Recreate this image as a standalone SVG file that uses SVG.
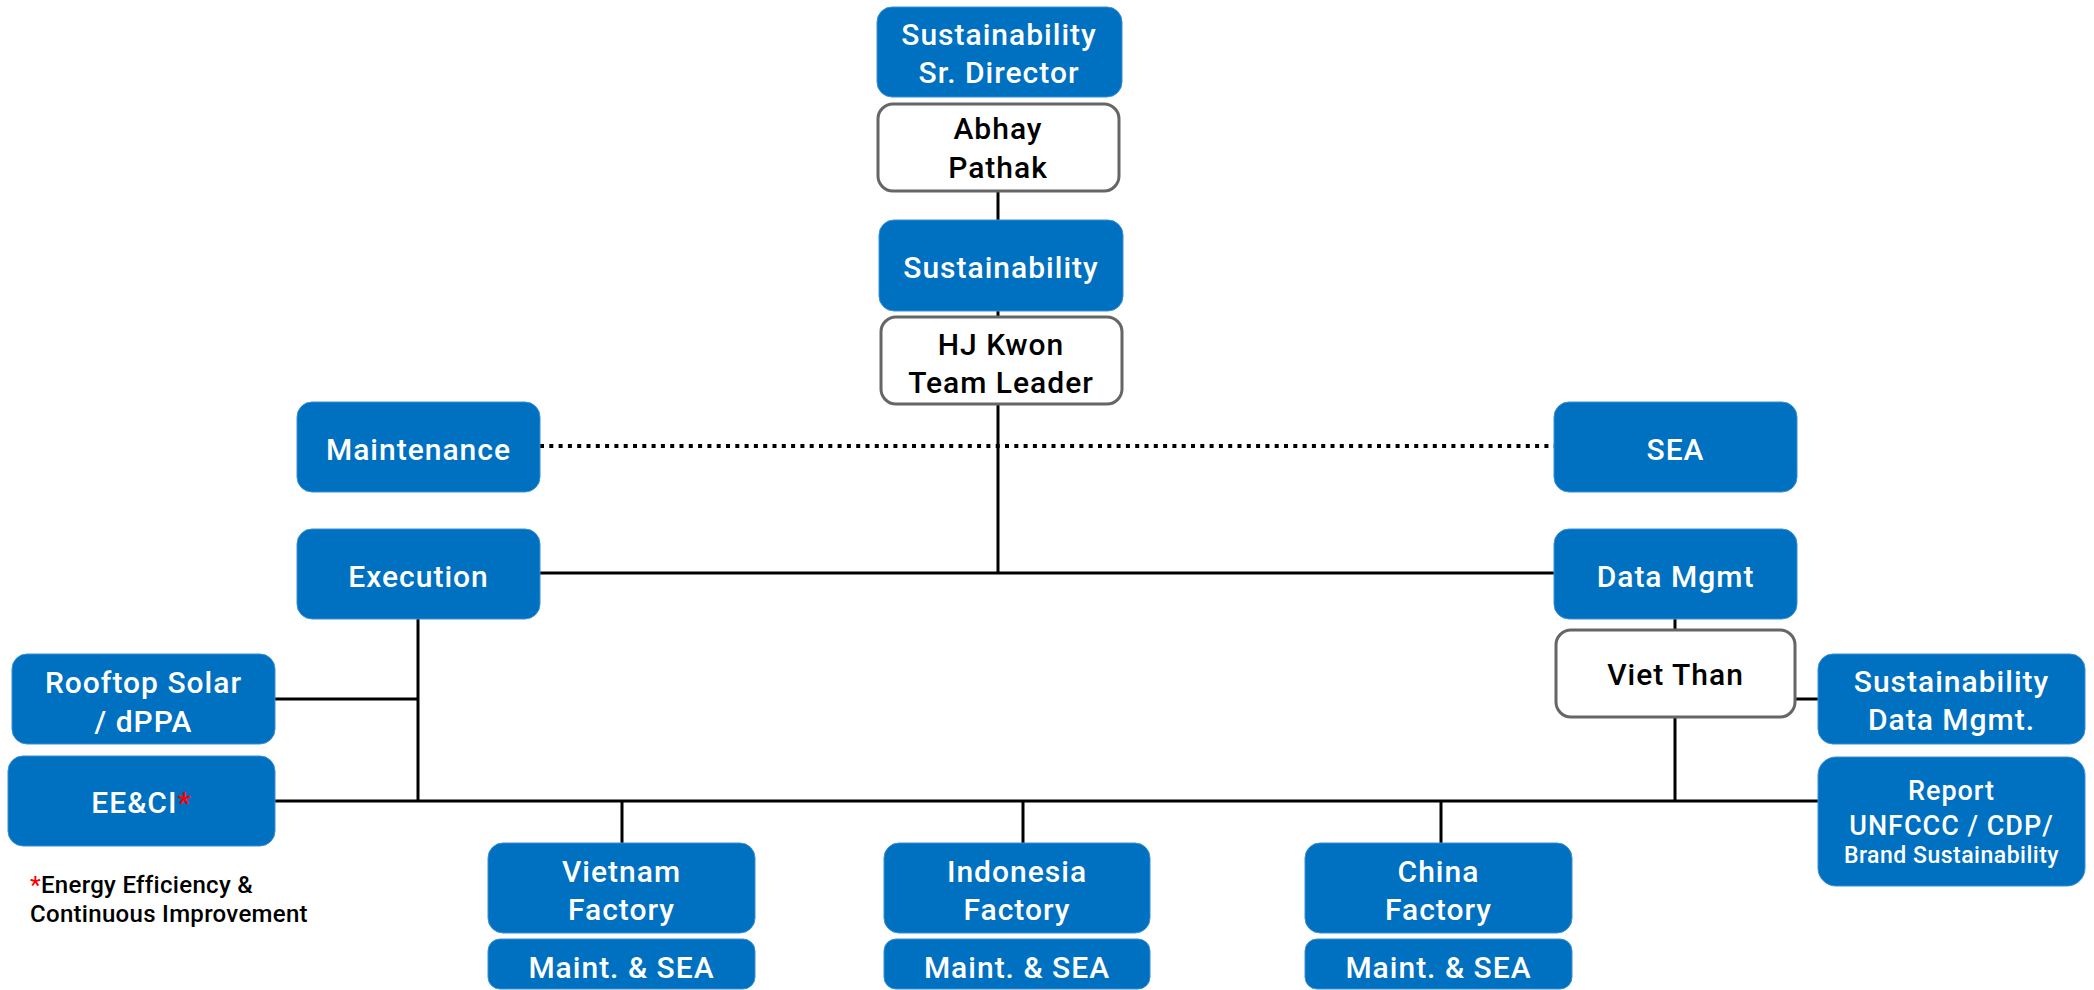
<svg xmlns="http://www.w3.org/2000/svg" width="2094" height="990" viewBox="0 0 2094 990">
<style>
.b{fill:#0070C0;stroke:#3a8fd6;stroke-width:1}
.w{fill:#ffffff;stroke:#666666;stroke-width:3}
text{font-family:Roboto,"Liberation Sans",sans-serif;font-weight:500;text-anchor:middle;letter-spacing:1px}
.tw{fill:#ffffff;font-size:30px}
.tk{fill:#000000;font-size:30px}
.ln{stroke:#000000;stroke-width:3;fill:none}
.dt{stroke:#000000;stroke-width:4;stroke-dasharray:4 5.3;fill:none}
.fn{font-size:24px;text-anchor:start;fill:#000000;letter-spacing:0.3px}
</style>
<rect width="2094" height="990" fill="#ffffff"/>
<g id="connectors">
<line class="ln" x1="998" y1="191" x2="998" y2="220"/>
<line class="ln" x1="998" y1="311" x2="998" y2="316"/>
<line class="ln" x1="998" y1="405" x2="998" y2="573"/>
<line class="dt" x1="540" y1="446" x2="1554" y2="446"/>
<line class="ln" x1="540" y1="573" x2="1554" y2="573"/>
<line class="ln" x1="418" y1="619" x2="418" y2="801"/>
<line class="ln" x1="275" y1="699" x2="418" y2="699"/>
<line class="ln" x1="275" y1="801" x2="1818" y2="801"/>
<line class="ln" x1="1675" y1="619" x2="1675" y2="629"/>
<line class="ln" x1="1675" y1="717" x2="1675" y2="801"/>
<line class="ln" x1="1795" y1="699" x2="1818" y2="699"/>
<line class="ln" x1="622" y1="801" x2="622" y2="843"/>
<line class="ln" x1="1023" y1="801" x2="1023" y2="843"/>
<line class="ln" x1="1441" y1="801" x2="1441" y2="843"/>
</g>
<g id="sr-director"><rect class="b" x="877" y="7" width="245" height="90" rx="15"/><text class="tw" x="999" y="45">Sustainability</text><text class="tw" x="999" y="83">Sr. Director</text></g>
<g id="abhay"><rect class="w" x="878" y="104" width="241" height="87" rx="15"/><text class="tk" x="998" y="139">Abhay</text><text class="tk" x="998" y="178">Pathak</text></g>
<g id="sustainability"><rect class="b" x="879" y="220" width="244" height="91" rx="15"/><text class="tw" x="1001" y="278">Sustainability</text></g>
<g id="hjkwon"><rect class="w" x="881" y="317" width="241" height="87" rx="15"/><text class="tk" x="1001" y="355">HJ Kwon</text><text class="tk" x="1001" y="393">Team Leader</text></g>
<g id="maintenance"><rect class="b" x="297" y="402" width="243" height="90" rx="15"/><text class="tw" x="418.5" y="460">Maintenance</text></g>
<g id="sea"><rect class="b" x="1554" y="402" width="243" height="90" rx="15"/><text class="tw" x="1675.5" y="460">SEA</text></g>
<g id="execution"><rect class="b" x="297" y="529" width="243" height="90" rx="15"/><text class="tw" x="418.5" y="587">Execution</text></g>
<g id="datamgmt"><rect class="b" x="1554" y="529" width="243" height="90" rx="15"/><text class="tw" x="1675.5" y="587">Data Mgmt</text></g>
<g id="vietthan"><rect class="w" x="1556" y="630" width="239" height="87" rx="15"/><text class="tk" x="1675.5" y="685">Viet Than</text></g>
<g id="rooftop"><rect class="b" x="12" y="654" width="263" height="90" rx="15"/><text class="tw" x="143.5" y="693">Rooftop Solar</text><text class="tw" x="143.5" y="732">/ dPPA</text></g>
<g id="eeci"><rect class="b" x="8" y="756" width="267" height="90" rx="15"/><text class="tw" x="141.5" y="813">EE&amp;CI<tspan fill="#ff0000">*</tspan></text></g>
<g id="footnote"><text class="fn" x="30" y="893"><tspan fill="#ff0000">*</tspan>Energy Efficiency &amp;</text><text class="fn" x="30" y="922">Continuous Improvement</text></g>
<g id="sustdata"><rect class="b" x="1818" y="654" width="267" height="90" rx="15"/><text class="tw" x="1951.5" y="692">Sustainability</text><text class="tw" x="1951.5" y="730">Data Mgmt.</text></g>
<g id="report"><rect class="b" x="1818" y="757" width="267" height="129" rx="18"/><text class="tw" x="1951.5" y="800" style="font-size:27px">Report</text><text class="tw" x="1951.5" y="835" style="font-size:27px">UNFCCC / CDP/</text><text class="tw" x="1951.5" y="863" style="font-size:23px;letter-spacing:0.5px">Brand Sustainability</text></g>
<g id="vietnam"><rect class="b" x="488" y="843" width="267" height="90" rx="15"/><text class="tw" x="621.5" y="882">Vietnam</text><text class="tw" x="621.5" y="920">Factory</text></g>
<g id="vietnam-maint"><rect class="b" x="488" y="939" width="267" height="50" rx="12"/><text class="tw" x="621.5" y="978">Maint. &amp; SEA</text></g>
<g id="indonesia"><rect class="b" x="884" y="843" width="266" height="90" rx="15"/><text class="tw" x="1017" y="882">Indonesia</text><text class="tw" x="1017" y="920">Factory</text></g>
<g id="indonesia-maint"><rect class="b" x="884" y="939" width="266" height="50" rx="12"/><text class="tw" x="1017" y="978">Maint. &amp; SEA</text></g>
<g id="china"><rect class="b" x="1305" y="843" width="267" height="90" rx="15"/><text class="tw" x="1438.5" y="882">China</text><text class="tw" x="1438.5" y="920">Factory</text></g>
<g id="china-maint"><rect class="b" x="1305" y="939" width="267" height="50" rx="12"/><text class="tw" x="1438.5" y="978">Maint. &amp; SEA</text></g>
</svg>
